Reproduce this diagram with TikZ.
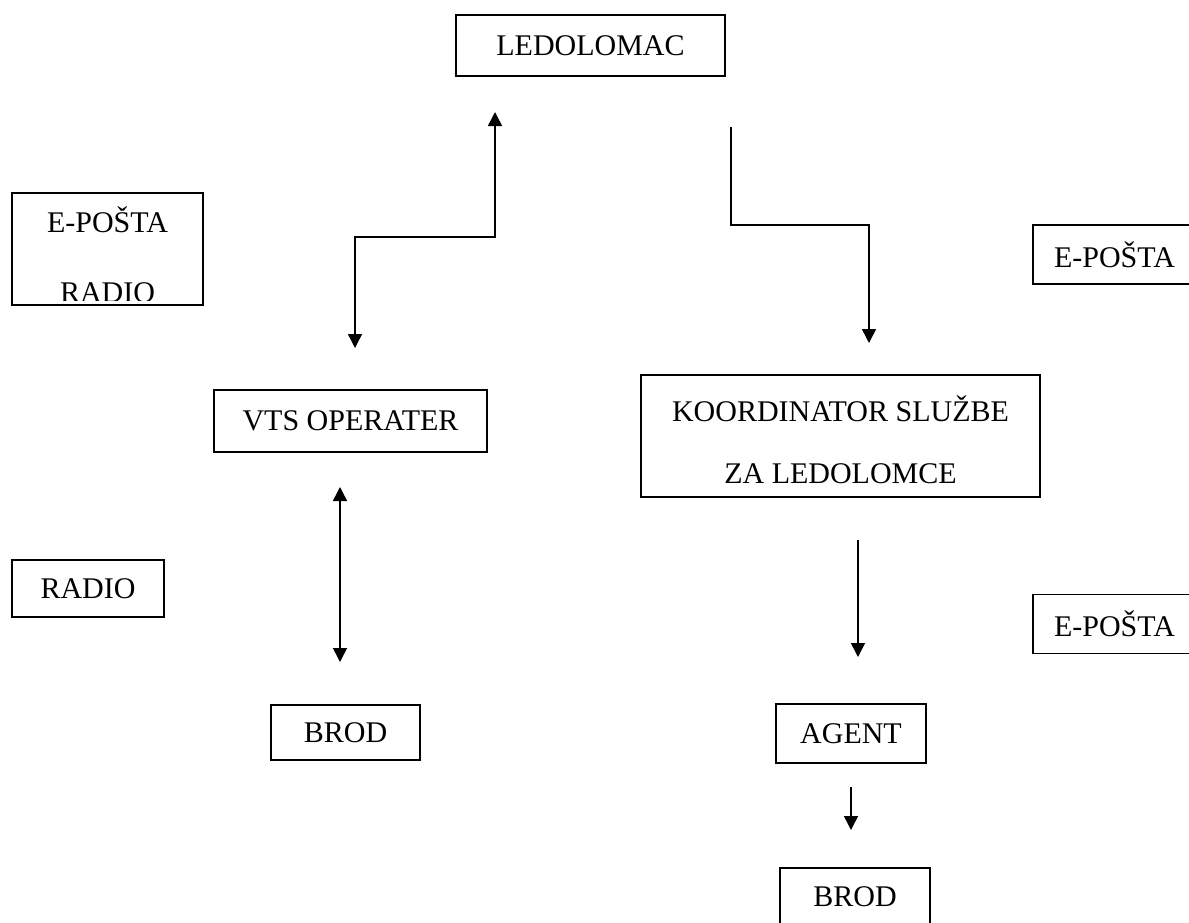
\documentclass[tikz,border=0pt]{standalone}
\usepackage{fontspec}
\setmainfont{Liberation Serif}
\usetikzlibrary{arrows.meta,calc}

\begin{document}
\begin{tikzpicture}[
    x=0.5pt, y=-0.5pt,
    box/.style={draw, line width=0.7pt, inner sep=0pt, font=\fontsize{15}{18}\selectfont},
    twoline/.style={box, align=center, font=\fontsize{15}{31}\selectfont},
    link/.style={line width=0.75pt},
    >={Triangle[length=7pt, width=7pt]}
]
    \useasboundingbox (0,0) rectangle (1189,922);
    \clip (0,0) rectangle (1189,922);

    % Top node
    \node[box, minimum width=134.5pt, minimum height=30.5pt] (ledolomac) at (590.5,45.5) {LEDOLOMAC};

    % Left column
    \node[box, minimum width=136.5pt, minimum height=31pt] (vts) at (350.5,421) {VTS OPERATER};
    \node[box, minimum width=74.5pt, minimum height=27.5pt] (brodL) at (345.5,732.5) {BROD};

    % Right column
    \node[twoline, minimum width=199.5pt, minimum height=61pt] (koord) at (840.5,436) {\rule{0pt}{16.2pt}KOORDINATOR SLUŽBE\\ZA LEDOLOMCE};
    \node[box, minimum width=75pt, minimum height=29.5pt] (agent) at (851,733.5) {AGENT};
    \node[box, minimum width=75pt, minimum height=29pt] (brodR) at (855,897) {BROD};

    % Channels
    \node[box, minimum width=95.5pt, minimum height=56pt] (kanali) at (107.5,249) {};
    \begin{scope}
        \clip (kanali.north west) rectangle ($(kanali.south east)+(0,-5)$);
        \node[align=center, font=\fontsize{15}{35}\selectfont] (kanalitekst) at (107.5,254.5) {E-POŠTA\\RADIO};
    \end{scope}
    \node[box, minimum width=76pt, minimum height=28.5pt] (radio) at (88,588.5) {RADIO};
    \node[box, minimum width=81.5pt, minimum height=29.5pt] (postaA) at (1114.5,254.5) {E-POŠTA};
    \node[box, minimum width=81.5pt, minimum height=29.5pt] (postaB) at (1114.5,624) {E-POŠTA};

    % Arrow ends and corners
    \coordinate (vtsIn) at (355,348);
    \coordinate (lijeviA) at (355,237);
    \coordinate (lijeviB) at (495,237);
    \coordinate (ledIn) at (495,112);
    \coordinate (ledOut) at (731,127);
    \coordinate (desniA) at (731,225);
    \coordinate (desniB) at (869,225);
    \coordinate (koordIn) at (869,343);
    \coordinate (vtsDolje) at (340,487);
    \coordinate (brodGore) at (340,662);
    \coordinate (koordOut) at (858,540);
    \coordinate (agentIn) at (858,657);
    \coordinate (agentOut) at (851,787);
    \coordinate (brodIn) at (851,830);

    % Connections
    \draw[link, <->] (vtsIn) -- (lijeviA) -- (lijeviB) -- (ledIn);
    \draw[link, ->] (ledOut) -- (desniA) -- (desniB) -- (koordIn);
    \draw[link, <->] (vtsDolje) -- (brodGore);
    \draw[link, ->] (koordOut) -- (agentIn);
    \draw[link, ->] (agentOut) -- (brodIn);
\end{tikzpicture}
\end{document}
